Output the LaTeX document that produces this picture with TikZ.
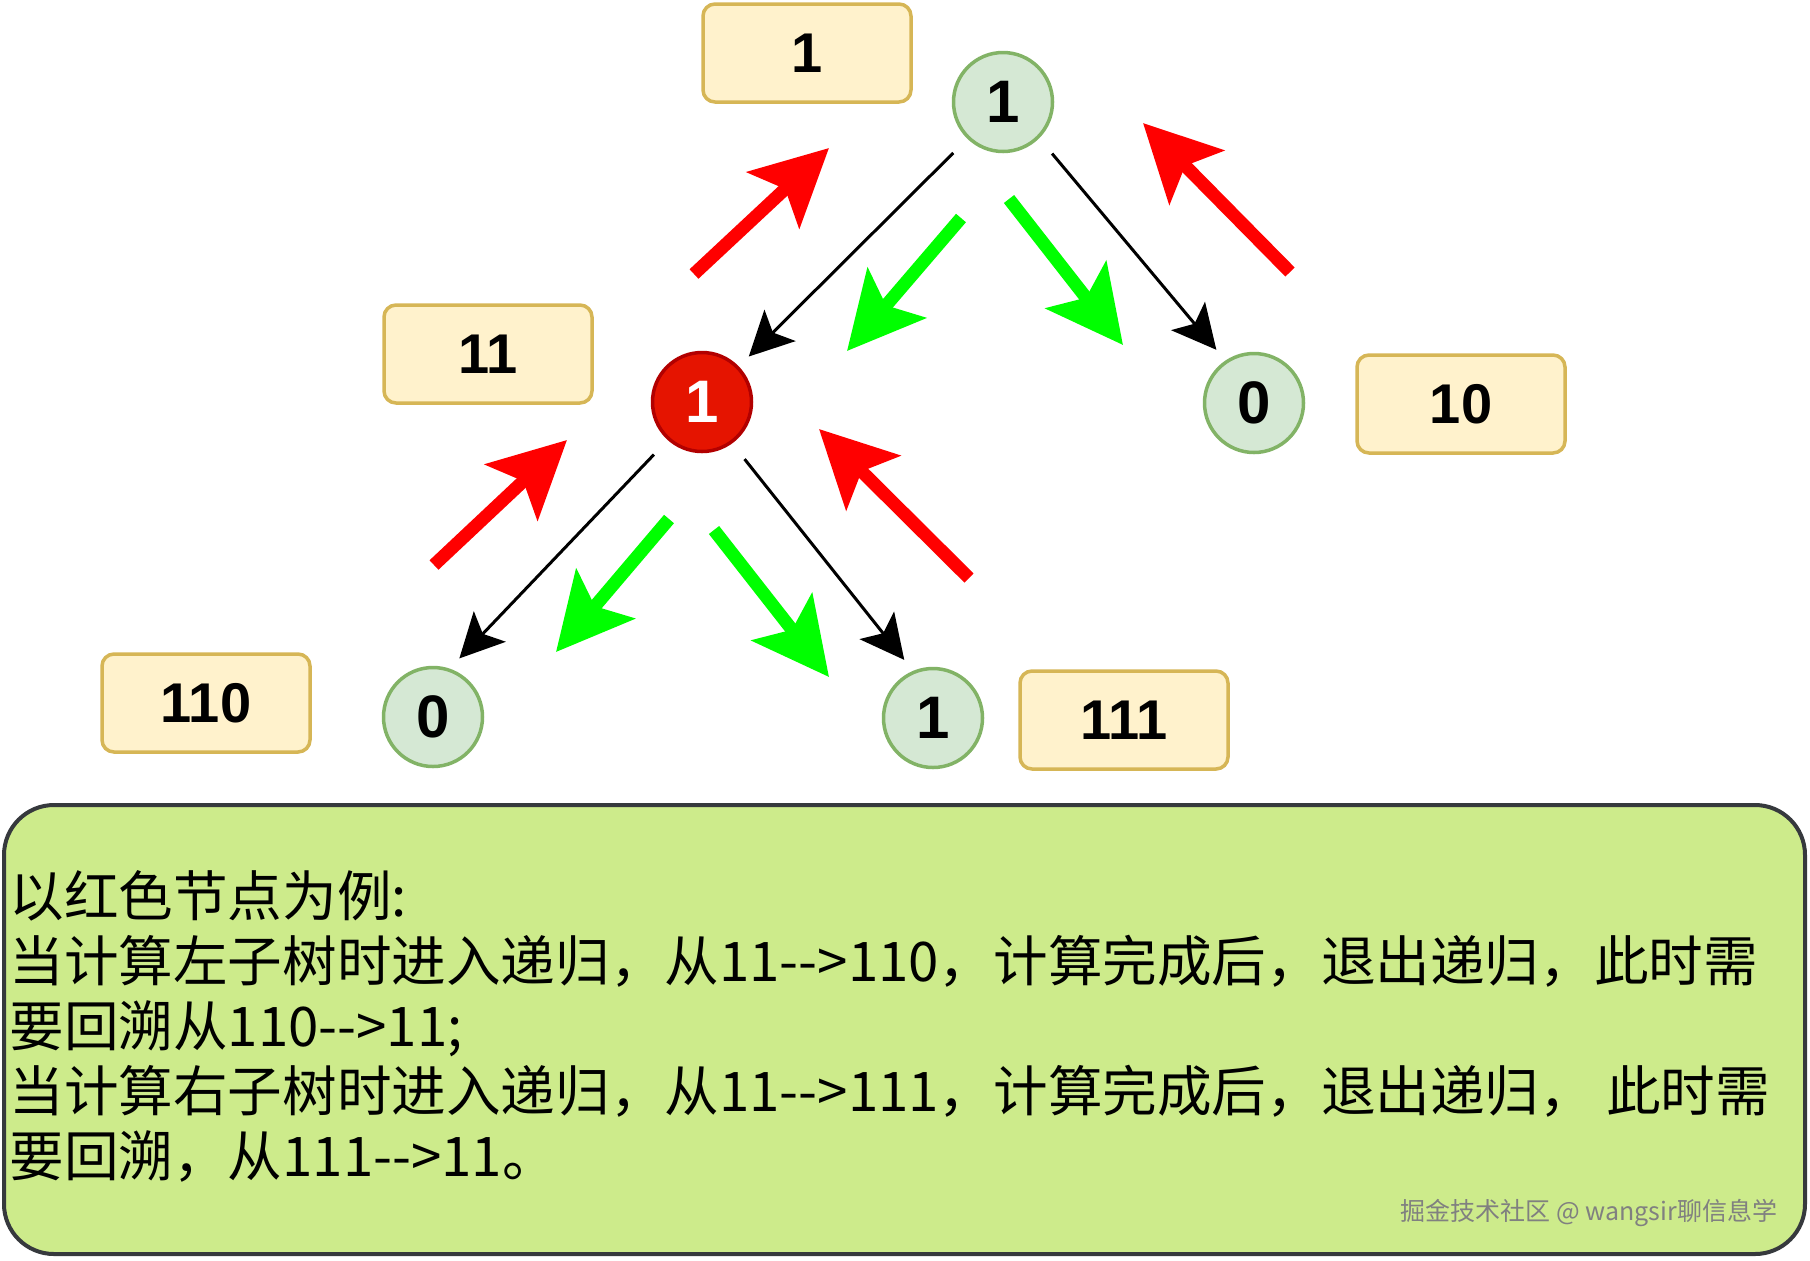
\documentclass[tikz,border=0pt]{standalone}
\usepackage{fontspec}
\setmainfont{Liberation Sans}
\newfontfamily\cjk{Noto Sans CJK SC}
\usepackage{tikz}
\usetikzlibrary{positioning,arrows.meta}

\definecolor{leaffill}{HTML}{D5E8D4}
\definecolor{leafline}{HTML}{82B366}
\definecolor{hotfill}{HTML}{E51400}
\definecolor{hotline}{HTML}{B20000}
\definecolor{trailfill}{HTML}{FFF2CC}
\definecolor{trailline}{HTML}{D6B656}
\definecolor{boardfill}{HTML}{CDEB8B}
\definecolor{boardline}{HTML}{36393D}
\definecolor{godown}{HTML}{00FF00}
\definecolor{goup}{HTML}{FF0000}

\begin{document}
\begin{tikzpicture}[
    x=0.5pt, y=-0.5pt,
    bit/.style={circle, draw=leafline, fill=leaffill, line width=1.75pt, minimum size=49.5pt, inner sep=0pt, font=\fontsize{30}{30}\selectfont\bfseries},
    hot/.style={bit, draw=hotline, fill=hotfill, text=white},
    trail/.style={rectangle, rounded corners=6pt, draw=trailline, fill=trailfill, line width=1.75pt, minimum width=104pt, minimum height=49pt, font=\fontsize{28}{28}\selectfont\bfseries},
    link/.style={-{Stealth[length=22pt,width=22pt,inset=5pt]}, line width=1.5pt, shorten <=10pt, shorten >=7pt},
    dive/.style={-{Stealth[length=38pt,width=38pt,inset=8pt]}, line width=6.5pt, draw=godown},
    climb/.style={dive, draw=goup},
    board/.style={draw=boardline, fill=boardfill, line width=2pt, rounded corners=25pt},
    say/.style={anchor=base west, inner sep=0pt, font=\cjk\fontsize{27.3}{33}\selectfont}
]
\useasboundingbox (0,0) rectangle (1810,1260);

% === Tree nodes ===
\node[bit] (root) at (1003,102) {1};
\node[hot] (mid)  at (702,402) {1};
\node[bit] (rgt)  at (1254,403) {0};
\node[bit] (lo)   at (433,717) {0};
\node[bit] (ro)   at (933,718) {1};

% === Path labels ===
\node[trail] (p1)   at (807,53)   {1};
\node[trail] (p11)  at (488,354)  {11};
\node[trail] (p10)  at (1461,404) {10};
\node[trail] (p110) at (206,703)  {110};
\node[trail] (p111) at (1124,720) {111};

% Tree edges
\draw[link] (root.226) -- (mid.44);
\draw[link] (root.-45) -- (rgt.124);
\draw[link] (mid.228) -- (lo.71);
\draw[link] (mid.-54) -- (ro.113);

% === Recursion in (green) and backtrack (red) ===
\coordinate (g1s) at (961,218);  \coordinate (g1e) at (847,351);
\coordinate (g2s) at (1009,199); \coordinate (g2e) at (1123,345);
\coordinate (g3s) at (669,519);  \coordinate (g3e) at (556,652);
\coordinate (g4s) at (714,530);  \coordinate (g4e) at (829,677);
\coordinate (r1s) at (694,274);  \coordinate (r1e) at (829,148);
\coordinate (r2s) at (1290,272); \coordinate (r2e) at (1143,123);
\coordinate (r3s) at (434,565);  \coordinate (r3e) at (567,440);
\coordinate (r4s) at (969,578);  \coordinate (r4e) at (819,429);

\draw[dive] (g1s) -- (g1e);
\draw[dive] (g2s) -- (g2e);
\draw[dive] (g3s) -- (g3e);
\draw[dive] (g4s) -- (g4e);
\draw[climb] (r1s) -- (r1e);
\draw[climb] (r2s) -- (r2e);
\draw[climb] (r3s) -- (r3e);
\draw[climb] (r4s) -- (r4e);

% === Explanation ===
\draw[board] (4,805) rectangle (1805,1254);
\foreach \y/\txt [count=\i] in {
    916/{以红色节点为例:},
    981/{当计算左子树时进入递归，从11-{}->110，计算完成后，退出递归，此时需},
    1046/{要回溯从110-{}->11;},
    1111/{当计算右子树时进入递归，从11-{}->111，计算完成后，退出递归， 此时需},
    1176/{要回溯，从111-{}->11。}}
  \node[say] (line\i) at (9,\y) {\txt};

\node[font=\cjk\fontsize{12.5}{12.5}\selectfont, text=white!50!black] (mark) at (1589,1213) {掘金技术社区 @ wangsir聊信息学};

\end{tikzpicture}
\end{document}
